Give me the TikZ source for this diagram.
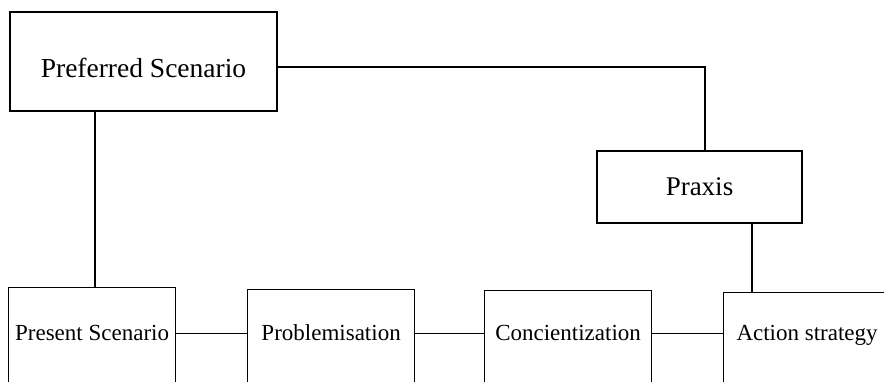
\documentclass[tikz,border=0pt]{standalone}
\usepackage{fontspec}
\setmainfont{Liberation Serif}
\usetikzlibrary{positioning}
\tikzset{
    box/.style={draw, rectangle, line width=1.2pt, inner sep=0pt},
    stage/.style={box, anchor=north west, minimum width=167pt, text depth=80pt,
        font=\fontsize{23}{23}\selectfont},
    link/.style={line width=1.2pt},
}

\begin{document}
\begin{tikzpicture}[x=1pt, y=-1pt]
    \useasboundingbox (0,0) rectangle (884,381);
    \clip (0,0) rectangle (884,381);
    % top row
    \node[box, minimum width=267pt, minimum height=99pt, text height=31pt, text depth=0pt,
        font=\fontsize{27.5}{27.5}\selectfont] (pref) at (143.5,61.5) {Preferred Scenario};
    \node[box, minimum width=205pt, minimum height=72pt,
        font=\fontsize{27}{27}\selectfont] (praxis) at (699.5,187) {Praxis};
    % bottom row, cut by the lower edge
    \node[stage, text height=53pt] (present) at (8,287) {Present Scenario};
    \node[stage, text height=51pt] (problem) at (247,289) {Problemisation};
    \node[stage, text height=50pt] (concient) at (484,290) {Concientization};
    \node[stage, text height=48pt] (action) at (723,292) {Action strategy};
    \coordinate (turn) at (705,67);
    \coordinate (stem) at (95,0);
    \coordinate (drop) at (752,0);
    \draw[link] (pref.east |- turn) -- (turn) -- (turn |- praxis.north);
    \draw[link] (stem |- pref.south) -- (stem |- present.north);
    \draw[link] (drop |- praxis.south) -- (drop |- action.north);
    \draw[link] ([yshift=7pt]present.base east) -- ([yshift=7pt]problem.base west);
    \draw[link] ([yshift=7pt]problem.base east) -- ([yshift=7pt]concient.base west);
    \draw[link] ([yshift=7pt]concient.base east) -- ([yshift=7pt]action.base west);
\end{tikzpicture}
\end{document}
